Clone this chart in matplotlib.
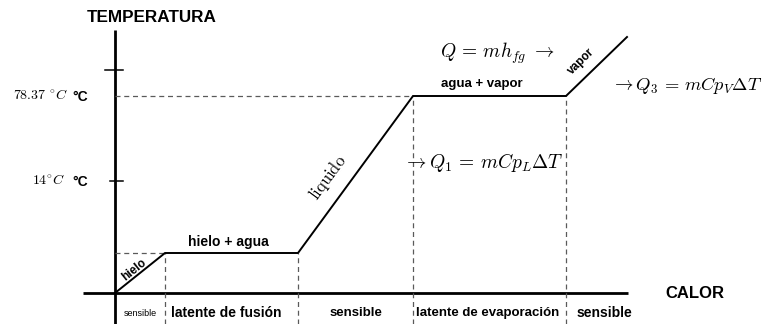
import matplotlib
matplotlib.use("Agg")
import matplotlib.pyplot as plt

plt.rcParams["mathtext.fontset"] = "cm"
plt.rcParams["font.family"] = ["Liberation Sans", "DejaVu Sans"]

# Heating curve of a substance (arbitrary heat / temperature units)
heat = [0, 50, 183, 298, 451, 512]
temp = [0, 40, 40, 197, 197, 256]

# Temperature axis marks
tick_marks = [112, 223]
temp_labels = [(197, r"$78.37\ {}^{\circ}C$"), (112, r"$14{}^{\circ}C$")]

# Stage names along the heat axis
stage_names = ["sensible", "latente de fusión", "sensible",
               "latente de evaporación", "sensible"]
stage_centers = [25, 111, 241, 373, 489]

fig = plt.figure(figsize=(7.69, 3.24), dpi=100)
ax = fig.add_axes([0, 0, 1, 1])
ax.set_xlim(-115, 654)
ax.set_ylim(-31, 293)
ax.axis("off")

# Axes drawn as plain lines
ax.plot([0, 0], [-31, 263], color="black", lw=2.0, solid_capstyle="butt")
ax.plot([-32, 513], [0, 0], color="black", lw=2.0, solid_capstyle="butt")
for yt, half in zip(tick_marks, [(-5, 8), (-10, 8)]):
    ax.plot([half[0], half[1]], [yt, yt], color="black", lw=1.1)

# Guide lines
dash = dict(color="#5a5a5a", lw=0.9, linestyle=(0, (4, 3)))
for hx, ty in zip(heat[1:5], temp[1:5]):
    ax.plot([hx, hx], [-31, ty], **dash)
ax.plot([0, heat[1]], [temp[1], temp[1]], **dash)
ax.plot([0, heat[3]], [temp[3], temp[3]], **dash)

# Heating curve
ax.plot(heat, temp, color="black", lw=1.4, solid_joinstyle="miter")

# Axis titles
ax.text(37, 275, "TEMPERATURA", ha="center", va="center",
        fontsize=12.3, fontweight="bold")
ax.text(580, -1, "CALOR", ha="center", va="center",
        fontsize=12, fontweight="bold")

# Temperature labels
for yv, lab in temp_labels:
    xl = -102 if yv > 150 else -83
    ax.text(xl, yv, lab, ha="left", va="center", fontsize=10)
    ax.text(-43, yv - 1, "°C", ha="left", va="center",
            fontsize=10, fontweight="bold")

# Phase labels on the curve
ax.text(19, 23, "hielo", ha="center", va="center", rotation=38.7,
        rotation_mode="anchor", fontsize=8.5, fontweight="bold")
ax.text(113, 51, "hielo + agua", ha="center", va="center",
        fontsize=10, fontweight="bold")
ax.text(213, 115, r"$\mathrm{liquido}$", ha="center", va="center",
        rotation=53.6, rotation_mode="anchor", fontsize=12)
ax.text(367, 209, "agua + vapor", ha="center", va="center",
        fontsize=9.5, fontweight="bold")
ax.text(466, 232, "vapor", ha="center", va="center", rotation=44.5,
        rotation_mode="anchor", fontsize=8.5, fontweight="bold")

# Heat expressions
ax.text(325, 240, r"$Q\,=\,mh_{fg}\ \rightarrow$", ha="left", va="center",
        fontsize=14)
ax.text(496, 208, r"$\rightarrow Q_3\,=\,mCp_V\Delta T$", ha="left",
        va="center", fontsize=13.3)
ax.text(288, 131, r"$\rightarrow Q_1\,=\,mCp_L\Delta T$", ha="left",
        va="center", fontsize=14)

# Stage names below the heat axis
for i, (name, xc) in enumerate(zip(stage_names, stage_centers)):
    if i == 0:
        ax.text(xc, -20, name, ha="center", va="center", fontsize=6.5,
                family=["Liberation Sans Narrow", "Liberation Sans"])
    else:
        ax.text(xc, -20, name, ha="center", va="center",
                fontsize=10 if i in (1, 4) else 9.5, fontweight="bold")

fig.savefig("out.png", dpi=100)
